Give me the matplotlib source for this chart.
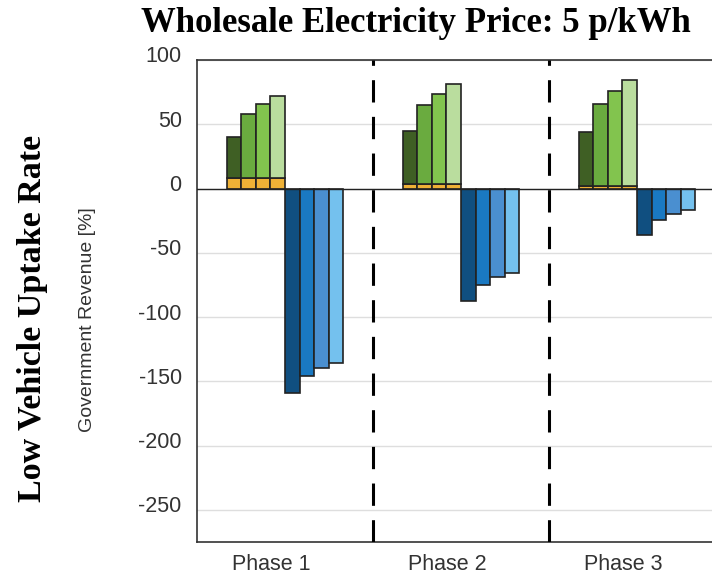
import numpy as np
import matplotlib
matplotlib.use('Agg')
import matplotlib.pyplot as plt
import matplotlib.transforms as mtransforms

# ── data ──────────────────────────────────────────────────────────────────────
phases = ['Phase 1', 'Phase 2', 'Phase 3']
orange_base = [8.2, 3.3, 2.0]                      # bottom segment under green bars
green_tops = [[40.1, 57.6, 65.6, 72.1],
              [44.6, 64.9, 73.9, 81.4],
              [43.6, 65.4, 76.0, 84.6]]
blue_vals = [[-159.4, -146.1, -139.6, -136.0],
             [-87.7, -75.4, -69.0, -65.8],
             [-35.9, -24.8, -19.6, -16.4]]
yticks = [100, 50, 0, -50, -100, -150, -200, -250]

green_cols = ['#3f5f24', '#6aab3f', '#82c44e', '#badd9e']
orange_col = '#efb136'
blue_cols = ['#104f80', '#1a79c2', '#4a8fd0', '#74c1ee']

# ── figure ────────────────────────────────────────────────────────────────────
W, H = 712, 576
fig = plt.figure(figsize=(W / 100, H / 100), dpi=100)
ax = fig.add_axes([197 / W, 1 - 542 / H, 528 / W, 482 / H])

bw = 0.0825
start = 0.17
for i in range(len(phases)):
    x0 = i + start
    for k in range(4):
        x = x0 + (k + 0.5) * bw
        ax.bar(x, orange_base[i], bw, color=orange_col, edgecolor='#222222',
               linewidth=1.2, zorder=3)
        ax.bar(x, green_tops[i][k] - orange_base[i], bw, bottom=orange_base[i],
               color=green_cols[k], edgecolor='#222222', linewidth=1.2, zorder=3)
    for k in range(4):
        x = x0 + (k + 4.5) * bw
        ax.bar(x, blue_vals[i][k], bw, color=blue_cols[k], edgecolor='#222222',
               linewidth=1.2, zorder=3)

for xv in (1, 2):
    ax.axvline(xv, color='black', linewidth=2.2, linestyle=(0, (7.3, 4.7)), zorder=4)
ax.axhline(0, color='#222222', linewidth=1.0, zorder=4)

ax.set_xlim(0, 3)
ax.set_ylim(-275, 100)
ax.set_yticks(yticks)
ax.set_yticklabels([str(t) for t in yticks])
ax.set_xticks([i + 0.42 for i in range(len(phases))])
ax.set_xticklabels(phases)
ax.yaxis.grid(True, color='#dedede', linewidth=1.0, zorder=0)
ax.set_axisbelow(True)
ax.tick_params(length=0, labelsize=15.5, labelcolor='#333333', pad=11)
ax.tick_params(axis='x', pad=9)
for lab in ax.get_xticklabels() + ax.get_yticklabels():
    lab.set_family('Liberation Sans')
offset = mtransforms.ScaledTranslation(0, 4 / 72, fig.dpi_scale_trans)
for lab in ax.yaxis.get_majorticklabels():
    lab.set_transform(lab.get_transform() + offset)

for side in ('left', 'top', 'bottom'):
    ax.spines[side].set_color('#333333')
    ax.spines[side].set_linewidth(1.2)
ax.spines['right'].set_visible(False)

fig.text(416 / W, 1 - 23 / H, 'Wholesale Electricity Price: 5 p/kWh',
         family='Liberation Serif', fontweight='bold', fontsize=25,
         ha='center', va='center')
fig.text(33 / W, 1 - 318 / H, 'Low Vehicle Uptake Rate', family='Liberation Serif',
         fontweight='bold', fontsize=24.5, rotation=90, ha='center', va='center')
fig.text(88 / W, 1 - 320 / H, 'Government Revenue [%]', family='Liberation Sans',
         fontsize=14, color='#333333', rotation=90, ha='center', va='center')

fig.savefig('out.png', dpi=100)
